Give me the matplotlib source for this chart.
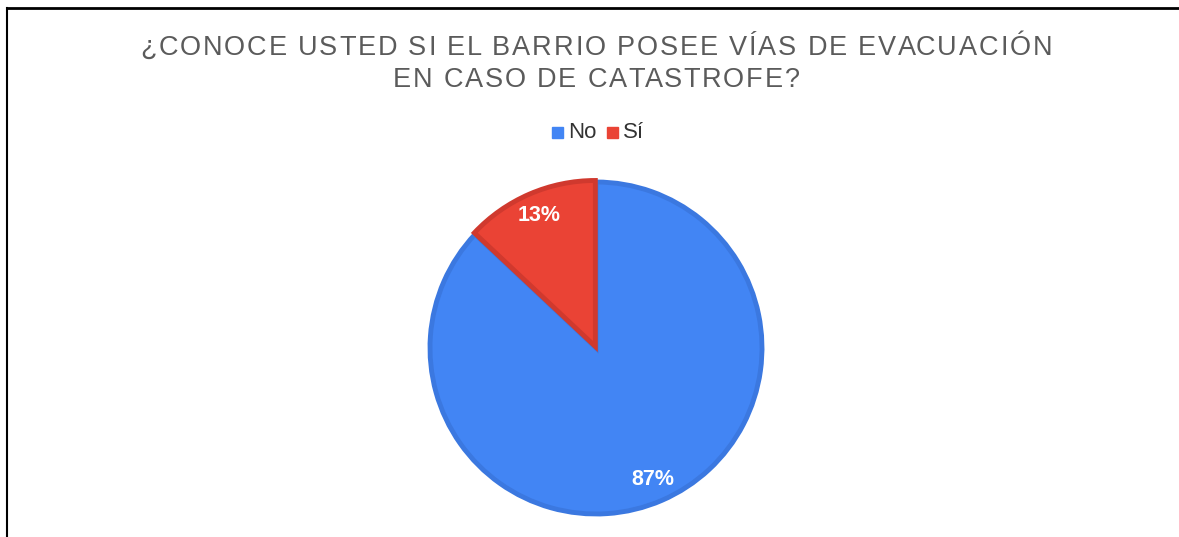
import matplotlib.pyplot as plt
from matplotlib.lines import Line2D
from matplotlib.patches import Rectangle
from matplotlib.font_manager import FontProperties

plt.rcParams['font.family'] = ['Liberation Sans', 'DejaVu Sans']

title_lines = ['¿CONOCE USTED SI EL BARRIO POSEE VÍAS DE EVACUACIÓN', 'EN CASO DE CATASTROFE?']
labels = ['No', 'Sí']
values = [87, 13]
colors = ['#4285F4', '#EA4335']
edge_colors = ['#3B78E0', '#D0392E']

W, H = 1179, 537
fig = plt.figure(figsize=(W / 100, H / 100), dpi=100)

# pie axes placed in pixels: centre (596, 348), radius 166
r = 166
ax = fig.add_axes([(596 - r) / W, (H - 348 - r) / H, 2 * r / W, 2 * r / H])
wedges, texts, autotexts = ax.pie(values, colors=colors, startangle=90, counterclock=False,
                                  explode=[0, 0.01], autopct='%1.0f%%', pctdistance=0.86,
                                  wedgeprops=dict(linewidth=3.5),
                                  textprops=dict(color='white', fontsize=15.5, fontweight='bold'))
for w, ec in zip(wedges, edge_colors):
    w.set_edgecolor(ec)
    w.set_clip_on(False)
ax.set_xlim(-1, 1)
ax.set_ylim(-1, 1)
ax.set_aspect('equal')
ax.axis('off')

renderer = fig.canvas.get_renderer()


def text_w(s, fp):
    w, _, _ = renderer.get_text_width_height_descent(s + 'H', fp, ismath=False)
    w0, _, _ = renderer.get_text_width_height_descent('H', fp, ismath=False)
    return w - w0


# title with letter spacing, drawn char by char
fp = FontProperties(family=['Liberation Sans', 'DejaVu Sans'], size=19.5)
line1 = title_lines[0]
spacing = (912 - text_w(line1, fp)) / (len(line1) - 1)
for line, yc in zip(title_lines, [45, 77]):
    total = text_w(line, fp) + spacing * (len(line) - 1)
    x0 = 596 - total / 2
    for i, ch in enumerate(line):
        x = x0 + text_w(line[:i], fp) + spacing * i
        fig.text(x / W, 1 - yc / H, ch, ha='left', va='center_baseline', fontproperties=fp,
                 color='#5b5b5b')

# legend: small squares + labels, laid out in pixels
lfp = FontProperties(family=['Liberation Sans', 'DejaVu Sans'], size=16)
x = 552
ly = 132
for lab, c in zip(labels, colors):
    fig.add_artist(Rectangle((x / W, (H - ly - 6) / H), 11 / W, 11 / H,
                             transform=fig.transFigure, color=c))
    x += 16
    fig.text(x / W, 1 - ly / H, lab, ha='left', va='center', fontproperties=lfp, color='#333333')
    x += text_w(lab, lfp) + 11

# frame lines like the screenshot
fig.add_artist(Line2D([7 / W, 1], [1 - 8 / H, 1 - 8 / H], color='black', linewidth=2))
fig.add_artist(Line2D([7 / W, 7 / W], [0, 1 - 8 / H], color='black', linewidth=1.5))

fig.savefig('out.png', dpi=100)
